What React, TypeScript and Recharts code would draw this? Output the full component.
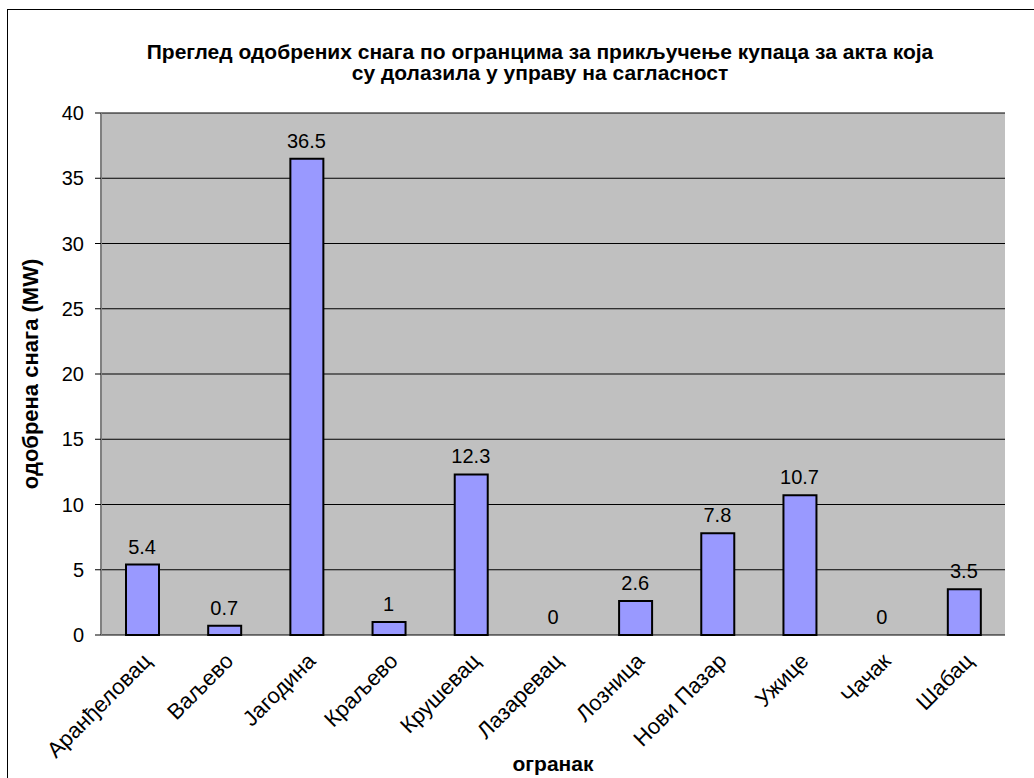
import {
  ComposedChart,
  Bar,
  Line,
  XAxis,
  YAxis,
  CartesianGrid,
  Label,
} from "recharts";

const branches = [
  "Аранђеловац",
  "Ваљево",
  "Јагодина",
  "Краљево",
  "Крушевац",
  "Лазаревац",
  "Лозница",
  "Нови Пазар",
  "Ужице",
  "Чачак",
  "Шабац",
];
const power = [5.4, 0.7, 36.5, 1, 12.3, 0, 2.6, 7.8, 10.7, 0, 3.5];
const yTicks = [0, 5, 10, 15, 20, 25, 30, 35, 40];
const boundaryTicks = [0, 1, 2, 3, 4, 5, 6, 7, 8, 9, 10, 11];

const data = branches.map((name, i) => ({ name, value: power[i] }));

const FONT = "'Liberation Sans', Arial, sans-serif";

function BranchTick({ x, y, payload }: any) {
  return (
    <g transform={`translate(${x + 5},${y + 14})`}>
      <text
        transform="rotate(-45)"
        textAnchor="end"
        dy="0.35em"
        fontSize={22}
        fontFamily={FONT}
        fill="#000"
      >
        {payload.value}
      </text>
    </g>
  );
}

// labels drawn from the line points so that zero values get a label too
function ValueLabel({ x, y, value }: any) {
  return (
    <text
      x={x}
      y={y - 11}
      textAnchor="middle"
      fontSize={20}
      fontFamily={FONT}
      fill="#000"
    >
      {String(value)}
    </text>
  );
}

export default function App() {
  return (
    <div
      style={{
        position: "absolute",
        left: 0,
        top: 0,
        width: 1034,
        height: 778,
        overflow: "hidden",
        background: "#fff",
        fontFamily: FONT,
      }}
    >
      <div
        style={{
          position: "absolute",
          left: 7,
          top: 9,
          width: 1040,
          height: 790,
          border: "1px solid #000",
        }}
      />
      <div
        style={{
          position: "absolute",
          left: 0,
          width: 1080,
          top: 41,
          textAlign: "center",
          fontWeight: "bold",
          fontSize: 21,
          lineHeight: "21px",
        }}
      >
        Преглед одобрених снага по огранцима за прикључење купаца за акта која
        <br />
        су долазила у управу на сагласност
      </div>
      <div style={{ position: "absolute", left: 0, top: 0 }}>
        <ComposedChart
          width={1034}
          height={778}
          data={data}
          margin={{ top: 113, right: 29, bottom: 13, left: 41 }}
        >
          <CartesianGrid
            vertical={false}
            fill="#C0C0C0"
            fillOpacity={1}
            stroke="#000"
            horizontalValues={yTicks}
          />
          <XAxis
            xAxisId="b"
            type="number"
            domain={[0, 11]}
            ticks={boundaryTicks}
            height={0}
            axisLine={{ stroke: "#000", strokeWidth: 1 }}
            tickLine={{ stroke: "#000" }}
            tickSize={6}
            tickFormatter={() => ""}
            allowDataOverflow
          />
          <XAxis
            dataKey="name"
            height={130}
            axisLine={false}
            tickLine={false}
            interval={0}
            tick={<BranchTick />}
          >
            <Label
              value="огранак"
              position="insideBottom"
              offset={-6}
              style={{ fontWeight: "bold", fontSize: 21, fill: "#000", fontFamily: FONT }}
            />
          </XAxis>
          <XAxis
            xAxisId="top"
            orientation="top"
            height={0}
            tick={false}
            tickLine={false}
            axisLine={{ stroke: "#808080", strokeWidth: 2 }}
          />
          <YAxis
            width={60}
            domain={[0, 40]}
            ticks={yTicks}
            interval={0}
            axisLine={{ stroke: "#808080", strokeWidth: 2 }}
            tickLine={{ stroke: "#000" }}
            tickSize={6}
            tickMargin={11}
            tick={{ fontSize: 20, fill: "#000", fontFamily: FONT }}
          >
            <Label
              value="одобрена снага (MW)"
              angle={-90}
              position="insideLeft"
              offset={-11}
              style={{
                textAnchor: "middle",
                fontWeight: "bold",
                fontSize: 22,
                fill: "#000",
                fontFamily: FONT,
              }}
            />
          </YAxis>
          <YAxis
            yAxisId="r"
            orientation="right"
            width={0}
            tick={false}
            tickLine={false}
            axisLine={{ stroke: "#808080", strokeWidth: 2 }}
          />
          <Bar
            dataKey="value"
            fill="#9999FF"
            stroke="#000"
            strokeWidth={2}
            barSize={33}
            isAnimationActive={false}
          />
          <Line
            dataKey="value"
            stroke="none"
            dot={false}
            activeDot={false}
            legendType="none"
            label={<ValueLabel />}
            isAnimationActive={false}
          />
        </ComposedChart>
      </div>
    </div>
  );
}
